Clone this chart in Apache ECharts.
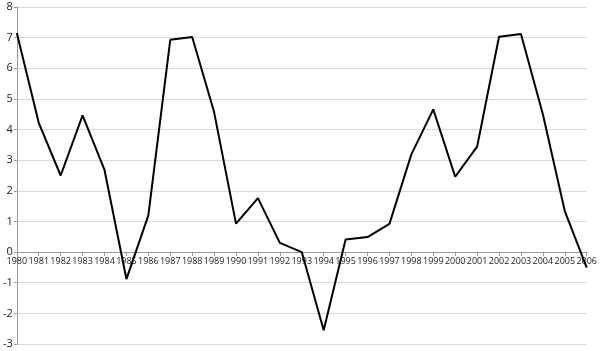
<!DOCTYPE html>
<html><head><meta charset="utf-8">
<script src="https://cdn.jsdelivr.net/npm/echarts@6/dist/echarts.min.js"></script>
<style>html,body{margin:0;padding:0;background:#fff}#c{width:600px;height:351px}</style>
</head><body><div id="c"></div>
<script>
const years = ['1980','1981','1982','1983','1984','1985','1986','1987','1988','1989','1990','1991','1992','1993','1994','1995','1996','1997','1998','1999','2000','2001','2002','2003','2004','2005','2006'];
const values = [7.15,4.22,2.5,4.46,2.68,-0.88,1.2,6.93,7.02,4.57,0.93,1.76,0.3,0.0,-2.55,0.41,0.49,0.92,3.19,4.66,2.46,3.44,7.03,7.12,4.5,1.34,-0.51];
const yMin = -3, yMax = 8, yStep = 1;
const gTop = 7, gBottom = 7, H = 351;
const plotH = H - gTop - gBottom;
const zeroOffset = -(plotH * (0 - yMin) / (yMax - yMin));
const chart = echarts.init(document.getElementById('c'), null, {renderer:'canvas'});
chart.setOption({
  animation:false,
  grid:{left:14,right:12,top:gTop,bottom:gBottom,containLabel:false},
  xAxis:{type:'category',data:years,boundaryGap:false,offset:zeroOffset,
    axisLine:{onZero:false,lineStyle:{color:'#999',width:1}},
    axisTick:{show:true,alignWithLabel:true,length:4,lineStyle:{color:'#999'}},
    axisLabel:{interval:0,margin:5,fontFamily:'Open Sans',fontSize:9,color:'#222'},
    splitLine:{show:false}},
  yAxis:{type:'value',min:yMin,max:yMax,interval:yStep,
    axisLine:{show:true,lineStyle:{color:'#999'}},
    axisTick:{show:true,length:3,lineStyle:{color:'#999'}},
    axisLabel:{margin:4,fontFamily:'Open Sans',fontSize:11,color:'#222'},
    splitLine:{show:true,lineStyle:{color:'#d9d9d9',width:1}}},
  series:[{type:'line',data:values,symbol:'none',lineStyle:{color:'#000',width:2},z:3}]
});
</script></body></html>
